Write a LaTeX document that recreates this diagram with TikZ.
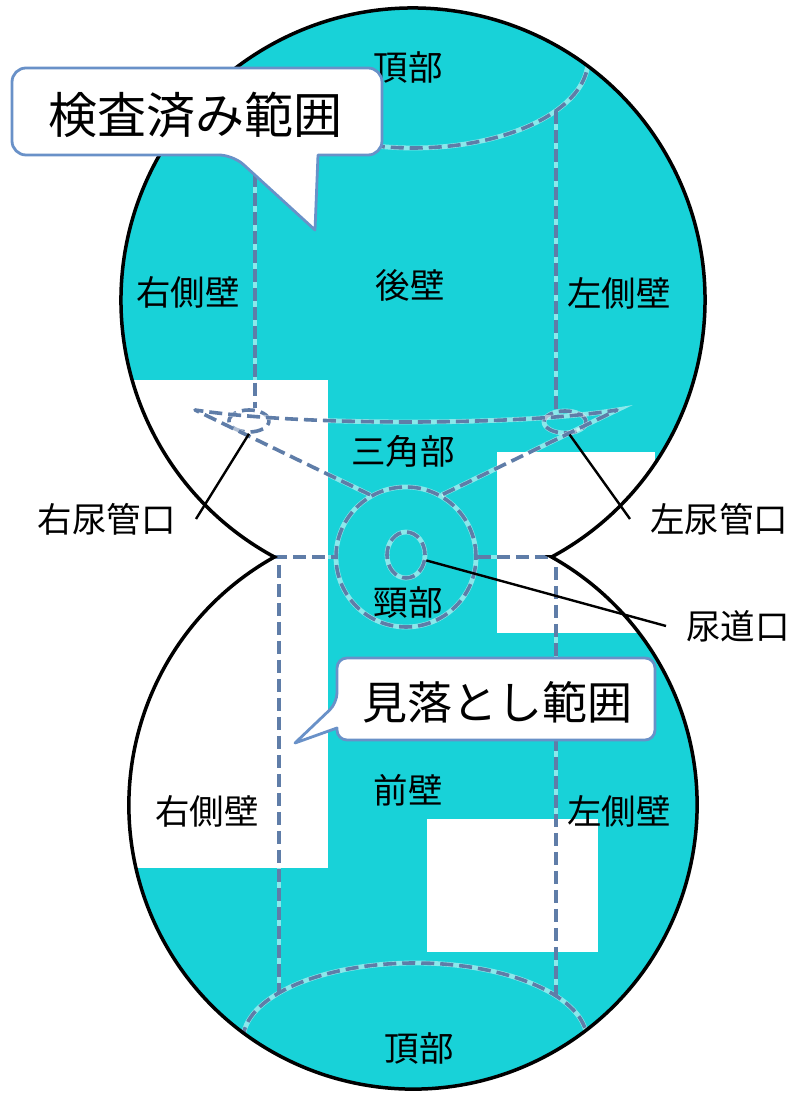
\documentclass[tikz,border=0pt]{standalone}
\usepackage{fontspec}
\setmainfont{Noto Sans CJK JP}
\usepackage{tikz}
\usetikzlibrary{shapes}
\definecolor{bladder}{RGB}{24,210,216}
\definecolor{wallblue}{RGB}{95,125,168}
\definecolor{balloonblue}{RGB}{105,145,200}
\tikzstyle{wall}=[draw=wallblue, line width=3.6pt, line join=round, dash pattern=on 13pt off 6pt, preaction={draw=white, solid, line width=4.8pt, opacity=0.5}]
\tikzstyle{orifice}=[wall, ellipse, inner sep=0pt]
\tikzstyle{part}=[font=\fontsize{34.5}{40}\selectfont, inner sep=0pt]
\tikzstyle{lead}=[part, inner xsep=20pt]
\tikzstyle{leader}=[draw, line width=2.4pt]
\tikzstyle{balloon}=[draw=balloonblue, fill=white, line width=2.8pt, line join=round]
\tikzstyle{missed}=[fill=white]
% outline: upper and lower sphere meeting at the two notches
\newcommand{\bladderpath}{(551.6,537) arc[start angle=-61.66, end angle=241.66, radius=292] arc[start angle=119.2, end angle=420.8, radius=284.1] -- cycle}

\begin{document}
\begin{tikzpicture}[x=1pt,y=1pt]
    \useasboundingbox (0,0) rectangle (798,1094);
    \fill[bladder] \bladderpath;
    \coordinate (lnotch) at (274.4,537);
    \coordinate (rnotch) at (551.6,537);
    \begin{scope}
        \clip \bladderpath;
        % areas the scope did not reach
        \fill[missed] (100,226) rectangle (328,714);
        \fill[missed] (497,461) rectangle (655,642);
        \fill[missed] (427,142) rectangle (598,275);
        % domes
        \draw[wall] (238,1034) arc[start angle=180, end angle=360, x radius=175, y radius=88];
        \draw[wall] (243,54) arc[start angle=180, end angle=0, x radius=172, y radius=77];
        % neck and orifices
        \node[wall, circle, minimum size=140pt] (neck) at (406,537) {};
        \node[orifice, minimum width=38pt, minimum height=46pt] (uro) at (406,539) {};
        \node[orifice, minimum width=40pt, minimum height=22pt] (ruo) at (249,673) {};
        \node[orifice, minimum width=42pt, minimum height=22pt] (luo) at (565,672) {};
        \draw[wall] (lnotch) -- (neck.west);
        \draw[wall] (neck.east) -- (rnotch);
        \draw[wall] (neck.120) -- (195,684) .. controls (300,668) and (520,668) .. (617,684) -- (neck.60);
        % side walls
        \draw[wall] (255,996) -- (255,686);
        \draw[wall] (556,983) -- (556,685);
        \draw[wall] (279,529) -- (279,101);
        \draw[wall] (556,527) -- (556,98);
    \end{scope}
    \foreach \pos/\name/\txt in {{(408,1026)/dome/頂部}, {(188,802)/rwallup/右側壁}, {(410,809)/back/後壁}, {(619,801)/lwallup/左側壁}, {(403,643)/trigone/三角部}, {(408,491)/neckl/頸部}, {(408,304)/front/前壁}, {(207,283)/rwalllow/右側壁}, {(619,283)/lwalllow/左側壁}, {(419,46)/fundus/頂部}}
        \node[part] (\name) at \pos {\txt};
    \draw[line width=3.5pt] \bladderpath;
    % leader lines
    \node[lead, anchor=east] (ruol) at (196,575) {右尿管口};
    \node[lead, anchor=west] (luol) at (630,575) {左尿管口};
    \node[lead, anchor=west] (urol) at (666,468) {尿道口};
    \draw[leader] (ruo.south) -- (ruol.east);
    \draw[leader] (luo.-70) -- (luol.west);
    \draw[leader] (uro.-15) -- (urol.west);
    % balloons
    \draw[balloon] (318,939) [rounded corners=14pt] -- (382,939) -- (382,1026) -- (12,1026) -- (12,939) -- (233,939) [sharp corners] -- (315,864) -- cycle;
    \node[font=\fontsize{49}{56}\selectfont, inner sep=0pt] (checked) at (195,979) {検査済み範囲};
    \draw[balloon] (337,366) [rounded corners=10pt] -- (337,354) -- (655,354) -- (655,436) -- (337,436) -- (337,391) [sharp corners] -- (295,351) -- cycle;
    \node[font=\fontsize{45}{52}\selectfont, inner sep=0pt] (missedl) at (497,392) {見落とし範囲};
\end{tikzpicture}
\end{document}
